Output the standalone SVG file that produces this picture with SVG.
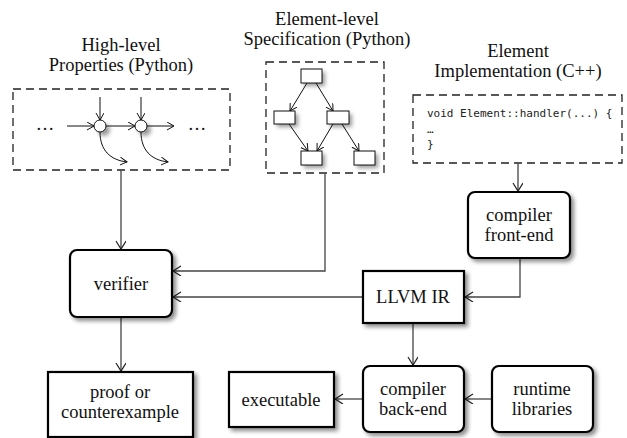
<svg xmlns="http://www.w3.org/2000/svg" width="627" height="438" viewBox="0 0 627 438">
<defs>
<style>
.t{font-family:"Liberation Serif","Times New Roman",serif;font-size:18.5px;fill:#111;text-anchor:middle}
.code{font-family:"DejaVu Sans Mono",monospace;font-size:11px;fill:#222}
.node{fill:#fff;stroke:#000;stroke-width:2.2}
.dash{fill:none;stroke:#222;stroke-width:1.3;stroke-dasharray:8 5}
.c{fill:none;stroke:#444;stroke-width:1.3}
.ci{fill:none;stroke:#111;stroke-width:1}
.sm{fill:#fff;stroke:#111;stroke-width:1}
.shd{fill:#000;opacity:0.4}
</style>
<marker id="a" markerUnits="userSpaceOnUse" markerWidth="12" markerHeight="12" refX="9" refY="5" orient="auto" viewBox="0 0 12 12">
<path d="M1,0 L9,5 L1,10" fill="none" stroke="#222" stroke-width="1.2"/>
</marker>
<marker id="s" markerUnits="userSpaceOnUse" markerWidth="10" markerHeight="10" refX="7" refY="4" orient="auto" viewBox="0 0 10 10">
<path d="M0,0 L7,4 L0,8" fill="none" stroke="#111" stroke-width="1"/>
</marker>
<filter id="sh" x="-20%" y="-20%" width="150%" height="150%">
<feGaussianBlur in="SourceAlpha" stdDeviation="2.2"/>
<feOffset dx="3" dy="3" result="b"/>
<feComponentTransfer><feFuncA type="linear" slope="0.45"/></feComponentTransfer>
<feMerge><feMergeNode/><feMergeNode in="SourceGraphic"/></feMerge>
</filter>
<filter id="bl" x="-50%" y="-50%" width="200%" height="200%">
<feGaussianBlur stdDeviation="2"/>
</filter>
</defs>
<rect width="627" height="438" fill="#fff"/>

<g id="high-level">
<text class="t" x="121" y="51">High-level</text>
<text class="t" x="121" y="71">Properties (Python)</text>
<rect class="dash" x="13" y="89" width="217" height="81"/>
<text class="t" x="45" y="130">…</text>
<text class="t" x="197" y="130">…</text>
<circle class="shd" cx="104" cy="130" r="6" filter="url(#bl)"/>
<circle class="shd" cx="145" cy="130" r="6" filter="url(#bl)"/>
<line class="ci" x1="67" y1="126" x2="94" y2="126" marker-end="url(#s)"/>
<line class="ci" x1="106" y1="126" x2="135" y2="126" marker-end="url(#s)"/>
<line class="ci" x1="147" y1="126" x2="174" y2="126" marker-end="url(#s)"/>
<line class="ci" x1="100" y1="97" x2="100" y2="120" marker-end="url(#s)"/>
<line class="ci" x1="141" y1="97" x2="141" y2="120" marker-end="url(#s)"/>
<path class="ci" d="M100,132 C100,150 110,160 127,162" marker-end="url(#s)"/>
<path class="ci" d="M141,132 C141,150 151,160 168,162" marker-end="url(#s)"/>
<circle class="sm" cx="100" cy="126" r="6"/>
<circle class="sm" cx="141" cy="126" r="6"/>
</g>

<g id="element-spec">
<text class="t" x="327" y="25">Element-level</text>
<text class="t" x="327" y="45">Specification (Python)</text>
<rect class="dash" x="266" y="62" width="118" height="111"/>
<g filter="url(#bl)">
<rect class="shd" x="304" y="72" width="21" height="14"/>
<rect class="shd" x="277" y="114" width="21" height="13"/>
<rect class="shd" x="330" y="114" width="22" height="13"/>
<rect class="shd" x="304" y="154" width="21" height="14"/>
<rect class="shd" x="357" y="154" width="21" height="14"/>
</g>
<line class="ci" x1="307" y1="83" x2="290" y2="111" marker-end="url(#s)"/>
<line class="ci" x1="316" y1="83" x2="333" y2="111" marker-end="url(#s)"/>
<line class="ci" x1="289" y1="124" x2="308" y2="151" marker-end="url(#s)"/>
<line class="ci" x1="333" y1="124" x2="317" y2="151" marker-end="url(#s)"/>
<line class="ci" x1="342" y1="124" x2="359" y2="151" marker-end="url(#s)"/>
<rect class="sm" x="301" y="69" width="21" height="14"/>
<rect class="sm" x="274" y="111" width="21" height="13"/>
<rect class="sm" x="327" y="111" width="22" height="13"/>
<rect class="sm" x="301" y="151" width="21" height="14"/>
<rect class="sm" x="354" y="151" width="21" height="14"/>
</g>

<g id="element-impl">
<text class="t" x="518" y="57">Element</text>
<text class="t" x="518" y="77">Implementation (C++)</text>
<rect class="dash" x="413" y="95" width="209" height="68"/>
<text class="code" x="427" y="117">void Element::handler(...) {</text>
<text class="code" x="427" y="132.5">…</text>
<text class="code" x="427" y="148">}</text>
</g>

<g id="connectors">
<line class="c" x1="121" y1="170" x2="121" y2="249" marker-end="url(#a)"/>
<polyline class="c" points="325,174 325,271 173,271" marker-end="url(#a)"/>
<line class="c" x1="363" y1="297" x2="173" y2="297" marker-end="url(#a)"/>
<line class="c" x1="518" y1="163" x2="518" y2="191" marker-end="url(#a)"/>
<polyline class="c" points="520,258 520,297 465,297" marker-end="url(#a)"/>
<line class="c" x1="413" y1="323" x2="413" y2="365" marker-end="url(#a)"/>
<line class="c" x1="121" y1="317" x2="121" y2="371" marker-end="url(#a)"/>
<line class="c" x1="492" y1="399" x2="465" y2="399" marker-end="url(#a)"/>
<line class="c" x1="363" y1="399" x2="335" y2="399" marker-end="url(#a)"/>
</g>

<g id="verifier">
<rect class="node" x="70" y="250" width="102" height="67" rx="7" filter="url(#sh)"/>
<text class="t" x="121" y="290">verifier</text>
</g>

<g id="front-end">
<rect class="node" x="468" y="192" width="102" height="66" rx="7" filter="url(#sh)"/>
<text class="t" x="519" y="221">compiler</text>
<text class="t" x="519" y="241">front-end</text>
</g>

<g id="llvm-ir">
<rect class="node" x="363" y="271" width="101" height="52" filter="url(#sh)"/>
<text class="t" x="413" y="303">LLVM IR</text>
</g>

<g id="back-end">
<rect class="node" x="363" y="366" width="101" height="66" rx="7" filter="url(#sh)"/>
<text class="t" x="413" y="395">compiler</text>
<text class="t" x="413" y="415">back-end</text>
</g>

<g id="runtime">
<rect class="node" x="492" y="366" width="101" height="66" rx="7" filter="url(#sh)"/>
<text class="t" x="542" y="395">runtime</text>
<text class="t" x="542" y="415">libraries</text>
</g>

<g id="executable">
<rect class="node" x="229" y="372" width="105" height="55" filter="url(#sh)"/>
<text class="t" x="281" y="406">executable</text>
</g>

<g id="proof">
<rect class="node" x="48" y="372" width="145" height="65" filter="url(#sh)"/>
<text class="t" x="120" y="398">proof or</text>
<text class="t" x="120" y="418">counterexample</text>
</g>
</svg>
